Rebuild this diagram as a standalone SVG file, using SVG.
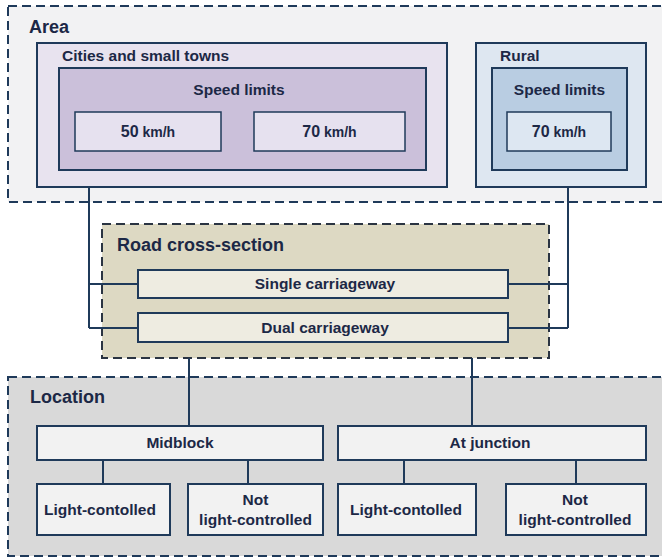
<svg xmlns="http://www.w3.org/2000/svg" width="662" height="559" viewBox="0 0 662 559">
<style>
text{font-family:"Liberation Sans",Arial,sans-serif;font-weight:bold;fill:#1c2846}
.t18{font-size:18px}
.t15{font-size:15.5px}
.n{font-size:16px}
.u{font-size:14px}
.c{text-anchor:middle}
.dash{stroke:#1f3a5a;stroke-width:2;stroke-dasharray:9 5}
.box{stroke:#1f3a5a;stroke-width:2}
.con{fill:none;stroke:#1f3a5a;stroke-width:2}
</style>
<rect width="662" height="559" fill="#ffffff"/>
<g id="area">
<rect class="dash" x="8" y="6" width="670" height="196" fill="#f2f2f3"/>
<text class="t18" x="29" y="33">Area</text>
</g>
<g id="road-cross-section">
<rect class="dash" x="102" y="224" width="447" height="134" fill="#ddd9c3" style="stroke:#2a3442"/>
<text class="t18" x="117" y="251">Road cross-section</text>
</g>
<g id="location">
<rect class="dash" x="8" y="377" width="670" height="179" fill="#d9d9d9"/>
<text class="t18" x="30" y="403">Location</text>
</g>
<g id="connectors">
<path class="con" d="M89 187V328M89 284H138M89 328H138"/>
<path class="con" d="M568 187V328M508 284H568M508 328H568"/>
<path class="con" d="M189 358V426M472 358V426"/>
<path class="con" d="M103 460V484M248 460V484M404 460V484M576 460V484"/>
</g>
<g id="cities">
<rect class="box" x="37" y="43" width="410" height="144" fill="#e8e3ef"/>
<text class="t15" x="62" y="61">Cities and small towns</text>
</g>
<g id="cities-speed-limits">
<rect class="box" x="59" y="68" width="367" height="102" fill="#cbc0da"/>
<text class="t15 c" x="239" y="95">Speed limits</text>
</g>
<g id="cities-50">
<rect class="box" x="75" y="112" width="146" height="39" fill="#e6e1ef" style="stroke-width:1.5"/>
<text class="c" x="148" y="137"><tspan class="n">50</tspan><tspan class="u"> km/h</tspan></text>
</g>
<g id="cities-70">
<rect class="box" x="254" y="112" width="151" height="39" fill="#e6e1ef" style="stroke-width:1.5"/>
<text class="c" x="329.5" y="137"><tspan class="n">70</tspan><tspan class="u"> km/h</tspan></text>
</g>
<g id="rural">
<rect class="box" x="476" y="43" width="170" height="144" fill="#dee7f1"/>
<text class="t15" x="500" y="61">Rural</text>
</g>
<g id="rural-speed-limits">
<rect class="box" x="492" y="68" width="135" height="102" fill="#b9cde2"/>
<text class="t15 c" x="559.5" y="95">Speed limits</text>
</g>
<g id="rural-70">
<rect class="box" x="507" y="112" width="104" height="39" fill="#dde7f2" style="stroke-width:1.5"/>
<text class="c" x="559" y="137"><tspan class="n">70</tspan><tspan class="u"> km/h</tspan></text>
</g>
<g id="single-carriageway">
<rect class="box" x="138" y="270" width="370" height="28" fill="#eeece1"/>
<text class="t15 c" x="325" y="289">Single carriageway</text>
</g>
<g id="dual-carriageway">
<rect class="box" x="138" y="313" width="370" height="29" fill="#eeece1"/>
<text class="t15 c" x="325" y="333">Dual carriageway</text>
</g>
<g id="midblock">
<rect class="box" x="37" y="426" width="286" height="34" fill="#f2f2f2"/>
<text class="t15 c" x="180" y="448">Midblock</text>
</g>
<g id="at-junction">
<rect class="box" x="338" y="426" width="308" height="34" fill="#f2f2f2"/>
<text class="t15 c" x="490" y="448">At junction</text>
</g>
<g id="midblock-light">
<rect class="box" x="37" y="484" width="133" height="51" fill="#f2f2f2"/>
<text class="t15 c" x="100" y="515">Light-contolled</text>
</g>
<g id="midblock-not-light">
<rect class="box" x="188" y="484" width="135" height="51" fill="#f2f2f2"/>
<text class="t15 c" x="255.5" y="505">Not</text>
<text class="t15 c" x="255.5" y="525">light-controlled</text>
</g>
<g id="junction-light">
<rect class="box" x="338" y="484" width="138" height="51" fill="#f2f2f2"/>
<text class="t15 c" x="406" y="515">Light-contolled</text>
</g>
<g id="junction-not-light">
<rect class="box" x="506" y="484" width="140" height="51" fill="#f2f2f2"/>
<text class="t15 c" x="575" y="505">Not</text>
<text class="t15 c" x="575" y="525">light-controlled</text>
</g>
</svg>
